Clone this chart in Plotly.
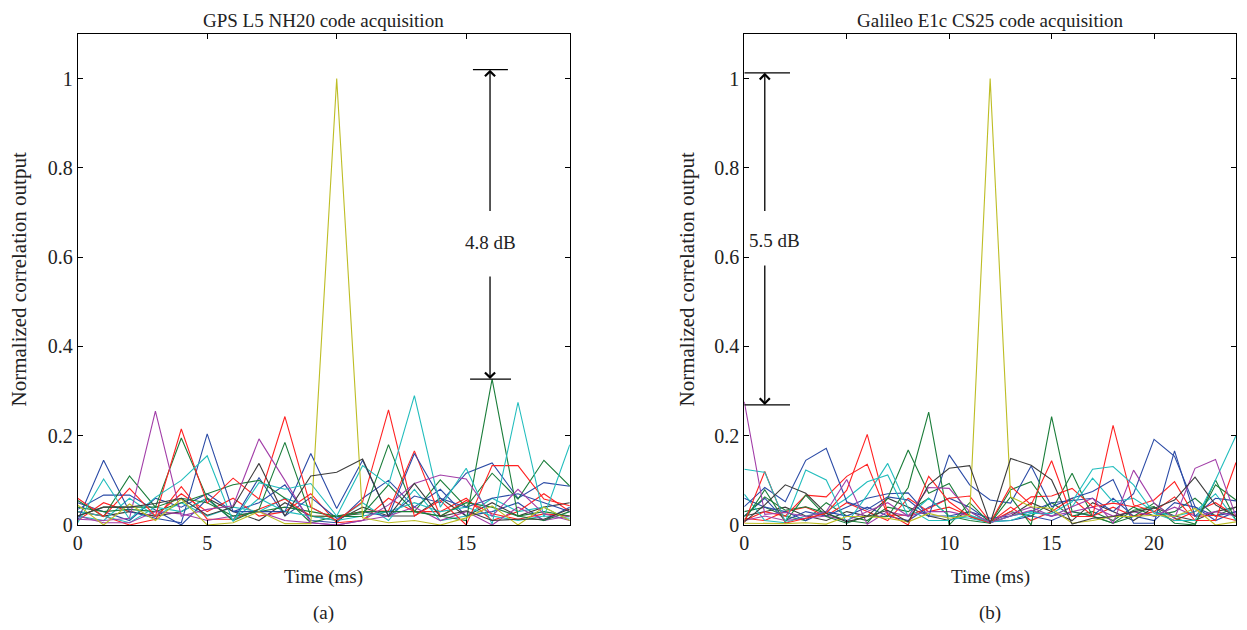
import plotly.graph_objects as go

# ---------------- data: (a) GPS L5 NH20, time 0..19 ms ----------------
time_a = list(range(20))
a_blue_1 = [0.010, 0.145, 0.030, 0.015, 0.005, 0.204, 0.030, 0.030, 0.030, 0.160, 0.037, 0.145, 0.020, 0.160, 0.060, 0.040, 0.060, 0.070, 0.050, 0.030]
a_green_1 = [0.055, 0.019, 0.110, 0.040, 0.195, 0.060, 0.010, 0.035, 0.185, 0.020, 0.019, 0.019, 0.180, 0.030, 0.020, 0.010, 0.327, 0.020, 0.010, 0.030]
a_red_1 = [0.060, 0.019, 0.082, 0.020, 0.215, 0.049, 0.105, 0.058, 0.243, 0.040, 0.010, 0.052, 0.258, 0.020, 0.055, 0.000, 0.133, 0.133, 0.058, 0.043]
a_cyan_1 = [0.005, 0.103, 0.013, 0.062, 0.100, 0.155, 0.008, 0.095, 0.080, 0.093, 0.020, 0.133, 0.090, 0.290, 0.040, 0.127, 0.002, 0.275, 0.018, 0.180]
a_magenta_1 = [0.013, 0.010, 0.015, 0.255, 0.020, 0.035, 0.043, 0.193, 0.100, 0.005, 0.000, 0.010, 0.045, 0.093, 0.112, 0.103, 0.020, 0.080, 0.025, 0.010]
a_olive_1 = [0.045, 0.000, 0.047, 0.010, 0.058, 0.000, 0.005, 0.030, 0.003, 0.003, 1.000, 0.016, 0.005, 0.010, 0.000, 0.016, 0.043, 0.000, 0.040, 0.010]
a_gray_1 = [0.020, 0.040, 0.040, 0.048, 0.060, 0.022, 0.040, 0.138, 0.020, 0.110, 0.118, 0.148, 0.019, 0.093, 0.019, 0.032, 0.010, 0.013, 0.013, 0.036]
a_blue_2 = [0.035, 0.067, 0.067, 0.033, 0.000, 0.058, 0.010, 0.106, 0.020, 0.062, 0.015, 0.030, 0.019, 0.065, 0.050, 0.116, 0.139, 0.060, 0.095, 0.087]
a_green_2 = [0.040, 0.030, 0.035, 0.030, 0.050, 0.070, 0.090, 0.100, 0.060, 0.005, 0.020, 0.025, 0.090, 0.030, 0.101, 0.040, 0.116, 0.058, 0.145, 0.087]
a_red_2 = [0.030, 0.020, 0.000, 0.013, 0.086, 0.013, 0.013, 0.035, 0.058, 0.020, 0.019, 0.030, 0.032, 0.166, 0.019, 0.055, 0.025, 0.013, 0.025, 0.020]
a_cyan_2 = [0.030, 0.020, 0.005, 0.040, 0.030, 0.060, 0.010, 0.060, 0.030, 0.020, 0.010, 0.020, 0.030, 0.050, 0.030, 0.040, 0.020, 0.010, 0.020, 0.015]
a_magenta_2 = [0.020, 0.005, 0.005, 0.030, 0.025, 0.010, 0.020, 0.030, 0.010, 0.005, 0.000, 0.010, 0.020, 0.040, 0.010, 0.030, 0.000, 0.040, 0.010, 0.020]
a_green_3 = [0.020, 0.040, 0.040, 0.040, 0.060, 0.050, 0.020, 0.030, 0.040, 0.030, 0.020, 0.030, 0.030, 0.030, 0.020, 0.050, 0.040, 0.020, 0.030, 0.020]
a_blue_3 = [0.050, 0.030, 0.010, 0.060, 0.040, 0.070, 0.030, 0.050, 0.090, 0.010, 0.005, 0.060, 0.100, 0.040, 0.080, 0.020, 0.030, 0.050, 0.010, 0.040]
a_red_3 = [0.010, 0.050, 0.030, 0.020, 0.070, 0.030, 0.060, 0.020, 0.030, 0.070, 0.005, 0.010, 0.060, 0.030, 0.030, 0.060, 0.010, 0.030, 0.070, 0.030]
a_gray_2 = [0.030, 0.020, 0.030, 0.020, 0.030, 0.060, 0.030, 0.010, 0.050, 0.020, 0.010, 0.040, 0.020, 0.020, 0.060, 0.020, 0.050, 0.020, 0.040, 0.050]
a_cyan_3 = [0.020, 0.010, 0.060, 0.020, 0.050, 0.020, 0.040, 0.030, 0.060, 0.040, 0.010, 0.050, 0.010, 0.080, 0.010, 0.020, 0.060, 0.030, 0.040, 0.010]

# ---------------- data: (b) Galileo E1c CS25, time 0..24 ms ----------------
time_b = list(range(25))
b_blue_1 = [0.041, 0.084, 0.052, 0.145, 0.172, 0.052, 0.035, 0.063, 0.056, 0.019, 0.157, 0.090, 0.056, 0.049, 0.132, 0.041, 0.060, 0.075, 0.102, 0.004, 0.004, 0.166, 0.020, 0.060, 0.054]
b_green_1 = [0.010, 0.079, 0.007, 0.067, 0.019, 0.004, 0.020, 0.019, 0.084, 0.253, 0.000, 0.050, 0.004, 0.063, 0.000, 0.243, 0.030, 0.020, 0.004, 0.019, 0.049, 0.015, 0.002, 0.090, 0.056]
b_red_1 = [0.005, 0.120, 0.004, 0.015, 0.026, 0.078, 0.203, 0.026, 0.000, 0.109, 0.052, 0.019, 0.005, 0.087, 0.045, 0.144, 0.019, 0.019, 0.223, 0.045, 0.030, 0.063, 0.010, 0.010, 0.140]
b_cyan_1 = [0.125, 0.118, 0.007, 0.123, 0.101, 0.004, 0.067, 0.138, 0.037, 0.010, 0.010, 0.022, 0.007, 0.010, 0.026, 0.026, 0.052, 0.125, 0.131, 0.090, 0.026, 0.010, 0.010, 0.101, 0.200]
b_magenta_1 = [0.276, 0.024, 0.028, 0.019, 0.030, 0.102, 0.002, 0.030, 0.020, 0.084, 0.082, 0.030, 0.005, 0.020, 0.033, 0.019, 0.041, 0.060, 0.004, 0.123, 0.049, 0.015, 0.127, 0.147, 0.019]
b_olive_1 = [0.004, 0.004, 0.003, 0.005, 0.002, 0.019, 0.019, 0.015, 0.007, 0.026, 0.015, 0.022, 1.000, 0.063, 0.041, 0.037, 0.004, 0.010, 0.019, 0.019, 0.022, 0.019, 0.037, 0.000, 0.007]
b_gray_1 = [0.007, 0.045, 0.090, 0.071, 0.026, 0.007, 0.019, 0.033, 0.007, 0.090, 0.127, 0.133, 0.004, 0.149, 0.134, 0.101, 0.002, 0.015, 0.019, 0.030, 0.037, 0.056, 0.107, 0.045, 0.019]
b_blue_2 = [0.020, 0.060, 0.010, 0.030, 0.020, 0.040, 0.060, 0.070, 0.072, 0.020, 0.020, 0.030, 0.015, 0.020, 0.030, 0.050, 0.055, 0.060, 0.030, 0.070, 0.192, 0.154, 0.041, 0.010, 0.030]
b_green_2 = [0.019, 0.063, 0.033, 0.041, 0.026, 0.010, 0.004, 0.060, 0.168, 0.071, 0.093, 0.019, 0.004, 0.079, 0.097, 0.033, 0.116, 0.019, 0.004, 0.033, 0.041, 0.004, 0.000, 0.101, 0.010]
b_red_2 = [0.010, 0.030, 0.020, 0.067, 0.063, 0.109, 0.136, 0.022, 0.022, 0.037, 0.060, 0.065, 0.007, 0.030, 0.063, 0.065, 0.082, 0.041, 0.049, 0.041, 0.056, 0.097, 0.019, 0.022, 0.010]
b_cyan_2 = [0.069, 0.010, 0.005, 0.020, 0.030, 0.060, 0.097, 0.112, 0.019, 0.060, 0.020, 0.015, 0.005, 0.020, 0.030, 0.020, 0.041, 0.105, 0.052, 0.060, 0.030, 0.020, 0.030, 0.070, 0.010]
b_magenta_2 = [0.010, 0.020, 0.010, 0.015, 0.020, 0.010, 0.030, 0.050, 0.020, 0.030, 0.030, 0.020, 0.010, 0.025, 0.040, 0.020, 0.030, 0.040, 0.020, 0.030, 0.020, 0.040, 0.020, 0.030, 0.020]
b_green_3 = [0.030, 0.040, 0.020, 0.010, 0.050, 0.020, 0.010, 0.040, 0.030, 0.060, 0.020, 0.010, 0.004, 0.030, 0.020, 0.050, 0.020, 0.030, 0.010, 0.040, 0.020, 0.030, 0.060, 0.020, 0.040]
b_red_3 = [0.015, 0.010, 0.030, 0.040, 0.020, 0.050, 0.030, 0.010, 0.060, 0.030, 0.040, 0.020, 0.006, 0.040, 0.010, 0.030, 0.060, 0.020, 0.040, 0.020, 0.030, 0.010, 0.030, 0.050, 0.020]
b_gray_2 = [0.020, 0.030, 0.040, 0.020, 0.010, 0.030, 0.020, 0.060, 0.040, 0.020, 0.010, 0.030, 0.005, 0.020, 0.050, 0.030, 0.010, 0.050, 0.030, 0.010, 0.040, 0.020, 0.010, 0.030, 0.040]
b_blue_3 = [0.060, 0.040, 0.030, 0.010, 0.030, 0.020, 0.040, 0.020, 0.010, 0.040, 0.060, 0.040, 0.008, 0.010, 0.020, 0.010, 0.030, 0.020, 0.060, 0.020, 0.010, 0.050, 0.040, 0.020, 0.030]

y_tick_vals = [0, 0.2, 0.4, 0.6, 0.8, 1]
y_tick_text = ["0", "0.2", "0.4", "0.6", "0.8", "1"]
x_tick_vals_a = [0, 5, 10, 15]
x_tick_vals_b = [0, 5, 10, 15, 20]

# ---------------- styling ----------------
BLUE, GREEN, RED, CYAN = "#2B4BA6", "#1B7D3A", "#FF2222", "#22BDBD"
MAGENTA, OLIVE, GRAY = "#A23EA8", "#BDBD24", "#3C3C3C"
FONT = "Liberation Serif"
TXT = "#222222"
FS = 19

series_a = [(a_blue_3, BLUE), (a_red_3, RED), (a_gray_2, GRAY), (a_cyan_3, CYAN),
            (a_blue_2, BLUE), (a_green_2, GREEN), (a_red_2, RED), (a_cyan_2, CYAN),
            (a_magenta_2, MAGENTA), (a_green_3, GREEN),
            (a_blue_1, BLUE), (a_green_1, GREEN), (a_red_1, RED), (a_cyan_1, CYAN),
            (a_magenta_1, MAGENTA), (a_olive_1, OLIVE), (a_gray_1, GRAY)]
series_b = [(b_green_3, GREEN), (b_red_3, RED), (b_gray_2, GRAY), (b_blue_3, BLUE),
            (b_blue_2, BLUE), (b_green_2, GREEN), (b_red_2, RED), (b_cyan_2, CYAN),
            (b_magenta_2, MAGENTA),
            (b_blue_1, BLUE), (b_green_1, GREEN), (b_red_1, RED), (b_cyan_1, CYAN),
            (b_magenta_1, MAGENTA), (b_olive_1, OLIVE), (b_gray_1, GRAY)]

fig = go.Figure()
for vals, col in series_a:
    fig.add_trace(go.Scatter(x=time_a, y=vals, mode="lines", line=dict(color=col, width=1.1),
                             xaxis="x", yaxis="y", showlegend=False, hoverinfo="skip"))
for vals, col in series_b:
    fig.add_trace(go.Scatter(x=time_b, y=vals, mode="lines", line=dict(color=col, width=1.1),
                             xaxis="x2", yaxis="y2", showlegend=False, hoverinfo="skip"))

# page body adds an 8 px offset; layout positions below are page pixels minus that offset
O = 8
W, H = 1247 - O, 630 - O
def px_x(p):
    return (p - O) / W
def px_y(p):
    return 1 - (p - O) / H

dom_xa = [px_x(77.7), px_x(569.8)]
dom_xb = [px_x(744.3), px_x(1236.0)]
dom_y = [px_y(525), px_y(34)]

axis_common = dict(showline=True, linecolor="black", linewidth=1, mirror="ticks",
                   ticks="inside", ticklen=5, tickcolor="black", showgrid=False, zeroline=False,
                   automargin=False, tickfont=dict(family=FONT, size=20, color=TXT))

fig.update_layout(
    template="none",
    width=W, height=H, margin=dict(l=0, r=0, t=0, b=0, pad=0, autoexpand=False),
    paper_bgcolor="white", plot_bgcolor="white",
    xaxis=dict(domain=dom_xa, range=[0, 19], tickvals=x_tick_vals_a, anchor="y", **axis_common),
    yaxis=dict(domain=dom_y, range=[0, 1.1], tickvals=y_tick_vals, ticktext=y_tick_text, anchor="x", **axis_common),
    xaxis2=dict(domain=dom_xb, range=[0, 24], tickvals=x_tick_vals_b, anchor="y2", **axis_common),
    yaxis2=dict(domain=dom_y, range=[0, 1.1], tickvals=y_tick_vals, ticktext=y_tick_text, anchor="x2", **axis_common),
)

def txt(x, y, s, xref="paper", yref="paper", angle=0, size=FS, xanchor="center", yanchor="middle"):
    fig.add_annotation(x=x, y=y, xref=xref, yref=yref, text=s, showarrow=False, textangle=angle,
                       xanchor=xanchor, yanchor=yanchor,
                       font=dict(family=FONT, size=size, color=TXT))

cxa = sum(dom_xa) / 2
cxb = sum(dom_xb) / 2
cy = sum(dom_y) / 2
txt(cxa, 1.0, "GPS L5 NH20 code acquisition", yanchor="top")
txt(cxb, 1.0, "Galileo E1c CS25 code acquisition", yanchor="top")
txt(cxa, px_y(577), "Time (ms)")
txt(cxb, px_y(577), "Time (ms)")
txt(cxa, px_y(613), "(a)")
txt(cxb, px_y(613), "(b)")
txt(px_x(18), cy, "Normalized correlation output", angle=-90, size=21)
txt(px_x(686), cy, "Normalized correlation output", angle=-90, size=21)

# dB annotations
def arrow(x, y, ax, ay, xr, yr):
    fig.add_annotation(x=x, y=y, ax=ax, ay=ay, xref=xr, yref=yr, axref=xr, ayref=yr,
                       text="", showarrow=True, arrowhead=4, arrowsize=1.5, arrowwidth=1.3,
                       arrowcolor="black", standoff=0, startstandoff=0)

def bar(x0, x1, y, xr, yr):
    fig.add_shape(type="line", x0=x0, x1=x1, y0=y, y1=y, xref=xr, yref=yr,
                  line=dict(color="black", width=1.3))

bar(15.26, 16.61, 1.02, "x", "y")
bar(15.15, 16.73, 0.327, "x", "y")
arrow(15.92, 1.02, 15.92, 0.70, "x", "y")
arrow(15.92, 0.327, 15.92, 0.56, "x", "y")
txt(15.92, 0.633, "4.8 dB", xref="x", yref="y")

bar(0, 2.23, 1.013, "x2", "y2")
bar(0, 2.23, 0.269, "x2", "y2")
arrow(1.0, 1.013, 1.0, 0.70, "x2", "y2")
arrow(1.0, 0.269, 1.0, 0.585, "x2", "y2")
txt(0.15, 0.637, "5.5 dB", xref="x2", yref="y2", xanchor="left")

fig.write_html("out.html")
